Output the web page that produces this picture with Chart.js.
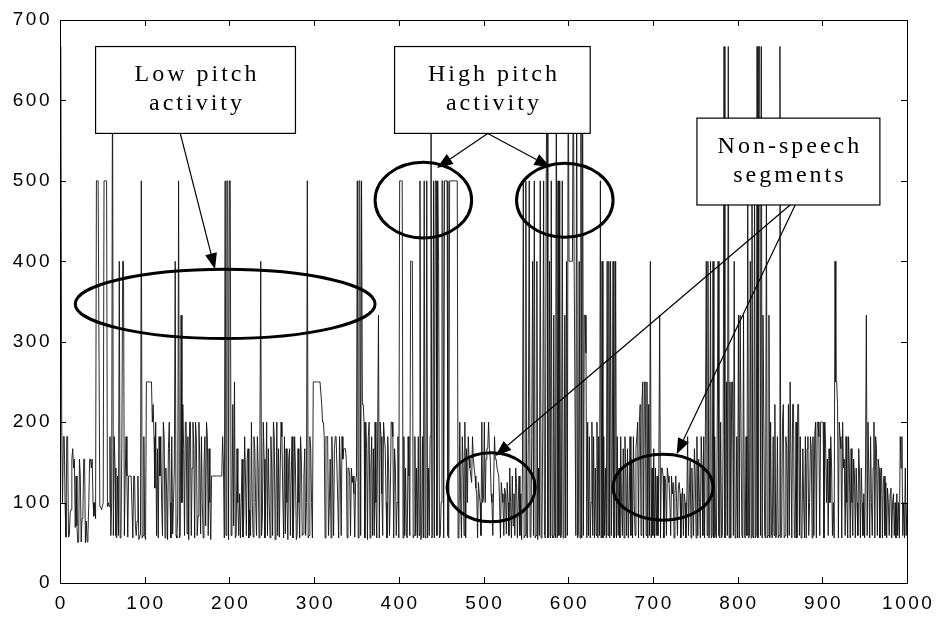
<!DOCTYPE html>
<html>
<head>
<meta charset="utf-8">
<script src="https://cdn.jsdelivr.net/npm/chart.js@4"></script>
<style>
  html, body { margin: 0; padding: 0; background: #fff; }
  canvas { display: block; }
</style>
</head>
<body>
<canvas id="pitchChart" width="940" height="619"></canvas>
<script>
// pitch track, one value per frame (frame 1..1000), Hz
const pitchHz = [
  667, 200, 100, 182, 182, 100, 57, 182, 182, 57,
  59, 87, 91, 154, 167, 143, 154, 69, 133, 71,
  50, 51, 154, 133, 51, 80, 83, 154, 154, 50,
  77, 51, 61, 100, 154, 154, 143, 154, 100, 83,
  100, 80, 500, 500, 500, 500, 95, 95, 91, 95,
  100, 500, 500, 500, 500, 95, 100, 95, 182, 59,
  100, 667, 59, 182, 143, 59, 56, 133, 59, 400,
  56, 59, 167, 400, 400, 59, 133, 182, 133, 57,
  133, 133, 133, 133, 133, 56, 133, 133, 71, 59,
  77, 133, 54, 57, 61, 500, 56, 59, 182, 59,
  54, 250, 250, 250, 250, 250, 250, 250, 200, 222,
  182, 118, 200, 59, 167, 56, 182, 133, 182, 100,
  59, 200, 182, 56, 143, 111, 54, 167, 200, 100,
  56, 182, 61, 100, 143, 400, 59, 56, 87, 500,
  56, 59, 333, 100, 222, 167, 59, 200, 200, 61,
  182, 54, 200, 200, 59, 143, 200, 167, 56, 200,
  182, 59, 83, 200, 154, 61, 182, 100, 56, 143,
  182, 71, 200, 182, 59, 167, 100, 54, 133, 133,
  133, 133, 133, 133, 133, 133, 133, 133, 133, 133,
  133, 182, 143, 56, 500, 59, 500, 500, 54, 500,
  500, 59, 87, 222, 71, 250, 56, 59, 167, 100,
  59, 111, 56, 100, 154, 57, 83, 182, 133, 59,
  154, 167, 56, 91, 59, 200, 100, 57, 182, 167,
  100, 59, 182, 143, 56, 182, 400, 59, 83, 200,
  154, 56, 111, 200, 59, 167, 100, 56, 182, 143,
  59, 200, 182, 54, 100, 200, 59, 167, 57, 143,
  200, 182, 111, 56, 182, 61, 167, 100, 54, 154,
  167, 59, 133, 182, 56, 91, 182, 143, 54, 59,
  167, 100, 56, 182, 154, 59, 61, 133, 167, 59,
  100, 500, 56, 59, 182, 167, 100, 56, 250, 250,
  250, 250, 250, 250, 250, 250, 250, 250, 222, 200,
  200, 182, 56, 182, 182, 182, 59, 100, 154, 56,
  182, 133, 59, 167, 182, 182, 182, 100, 56, 182,
  143, 59, 182, 154, 167, 167, 167, 154, 56, 143,
  143, 133, 59, 143, 125, 133, 111, 57, 125, 133,
  500, 56, 500, 500, 59, 500, 222, 222, 200, 56,
  200, 167, 54, 182, 200, 56, 143, 182, 59, 167,
  59, 200, 100, 56, 182, 333, 56, 200, 182, 111,
  59, 200, 182, 167, 100, 56, 182, 143, 59, 111,
  200, 200, 182, 56, 167, 143, 59, 100, 182, 56,
  500, 500, 500, 500, 56, 182, 59, 143, 59, 56,
  182, 133, 59, 400, 400, 400, 56, 59, 182, 59,
  143, 56, 182, 59, 500, 54, 59, 182, 56, 500,
  56, 59, 500, 56, 143, 59, 182, 667, 56, 59,
  500, 56, 500, 500, 59, 500, 400, 56, 59, 100,
  500, 500, 56, 500, 500, 500, 500, 59, 56, 500,
  500, 500, 500, 500, 500, 500, 500, 500, 500, 56,
  59, 200, 100, 56, 182, 143, 59, 200, 56, 167,
  100, 182, 154, 143, 133, 125, 182, 154, 143, 133,
  118, 111, 56, 125, 111, 100, 59, 200, 100, 105,
  200, 100, 154, 167, 167, 200, 167, 154, 111, 100,
  59, 125, 182, 154, 154, 143, 143, 133, 100, 56,
  125, 111, 100, 59, 118, 111, 61, 125, 100, 59,
  143, 100, 56, 133, 71, 111, 59, 143, 125, 56,
  100, 133, 59, 111, 54, 143, 500, 56, 59, 500,
  59, 56, 200, 500, 57, 59, 182, 400, 59, 500,
  56, 59, 400, 54, 143, 59, 500, 56, 59, 200,
  500, 59, 56, 500, 667, 56, 59, 400, 56, 500,
  59, 56, 333, 59, 56, 667, 56, 500, 59, 500,
  56, 59, 500, 56, 59, 333, 56, 400, 59, 667,
  400, 400, 400, 400, 400, 667, 400, 400, 59, 667,
  56, 59, 400, 56, 667, 56, 667, 59, 333, 333,
  286, 56, 200, 59, 182, 56, 100, 200, 59, 182,
  56, 143, 59, 200, 56, 182, 59, 500, 56, 400,
  56, 182, 59, 143, 56, 400, 59, 400, 56, 400,
  59, 143, 400, 56, 59, 400, 56, 182, 59, 143,
  56, 182, 100, 59, 167, 56, 182, 143, 59, 167,
  56, 100, 182, 59, 154, 56, 182, 100, 59, 167,
  182, 200, 56, 200, 222, 59, 222, 250, 56, 250,
  250, 59, 250, 56, 222, 59, 400, 56, 143, 59,
  167, 56, 143, 59, 133, 59, 143, 333, 56, 143,
  143, 133, 56, 133, 125, 59, 143, 133, 125, 100,
  59, 133, 111, 125, 56, 111, 133, 100, 59, 118,
  125, 111, 56, 100, 118, 59, 111, 100, 56, 100,
  182, 59, 111, 154, 56, 143, 100, 59, 167, 133,
  56, 182, 59, 154, 100, 56, 182, 143, 59, 182,
  56, 200, 400, 59, 400, 56, 59, 400, 56, 59,
  400, 56, 182, 59, 56, 200, 400, 59, 56, 200,
  56, 59, 182, 667, 56, 59, 250, 59, 667, 56,
  250, 56, 250, 250, 59, 400, 56, 59, 182, 56,
  333, 56, 333, 333, 59, 56, 333, 59, 56, 182,
  59, 500, 56, 59, 400, 56, 500, 59, 56, 500,
  56, 59, 667, 56, 667, 667, 59, 667, 56, 333,
  333, 59, 56, 500, 56, 59, 333, 56, 200, 59,
  56, 182, 59, 222, 56, 59, 182, 56, 59, 667,
  56, 59, 200, 222, 56, 59, 182, 167, 56, 222,
  59, 250, 250, 56, 222, 222, 59, 56, 200, 56,
  222, 222, 59, 182, 56, 59, 167, 100, 56, 182,
  56, 167, 182, 59, 100, 182, 167, 56, 182, 59,
  182, 200, 56, 200, 200, 182, 59, 200, 200, 200,
  200, 56, 200, 167, 100, 154, 59, 167, 100, 182,
  143, 59, 100, 56, 400, 250, 250, 222, 56, 200,
  182, 167, 56, 200, 143, 154, 59, 182, 100, 56,
  182, 143, 56, 167, 100, 59, 154, 133, 56, 143,
  100, 59, 167, 133, 56, 143, 100, 59, 111, 56,
  143, 333, 59, 200, 200, 56, 182, 100, 59, 143,
  200, 56, 182, 167, 59, 154, 143, 56, 133, 143,
  56, 125, 133, 59, 125, 56, 118, 100, 59, 111,
  118, 56, 100, 111, 59, 100, 56, 111, 59, 100,
  56, 182, 143, 182, 59, 100, 56, 143, 59, 100
];

const xTicks = [0, 100, 200, 300, 400, 500, 600, 700, 800, 900, 1000];
const yTicks = [0, 100, 200, 300, 400, 500, 600, 700];

// callout boxes, in data units
const boxes = [
  { x0: 42, x1: 278, y0: 667, y1: 559, lines: ['Low pitch', 'activity'] },
  { x0: 395, x1: 626, y0: 667, y1: 559, lines: ['High pitch', 'activity'] },
  { x0: 752, x1: 968, y0: 578, y1: 470, lines: ['Non-speech', 'segments'] }
];
// ellipses: centre and radii in data units
const ellipses = [
  { cx: 195, cy: 347, rx: 177, ry: 43 },
  { cx: 429, cy: 476, rx: 57, ry: 47 },
  { cx: 596, cy: 476, rx: 57, ry: 46 },
  { cx: 509, cy: 119, rx: 52, ry: 43 },
  { cx: 712, cy: 119, rx: 59, ry: 41 }
];
// arrows: from -> tip, data units
const arrows = [
  { x0: 142, y0: 559, x1: 183, y1: 390 },
  { x0: 505, y0: 559, x1: 445, y1: 516 },
  { x0: 505, y0: 559, x1: 579, y1: 517 },
  { x0: 862, y0: 470, x1: 514, y1: 158 },
  { x0: 868, y0: 470, x1: 728, y1: 160 }
];

const points = pitchHz.map((v, i) => ({ x: i + 1, y: v }));

const frame = {
  id: 'frame',
  afterDatasetsDraw(chart) {
    const { ctx, chartArea: a, scales: { x, y } } = chart;
    ctx.save();
    ctx.strokeStyle = '#000';
    ctx.lineWidth = 1;
    ctx.strokeRect(a.left + 0.5, a.top + 0.5, a.right - a.left, a.bottom - a.top);
    ctx.beginPath();
    xTicks.forEach(t => {
      const px = Math.round(x.getPixelForValue(t)) + 0.5;
      ctx.moveTo(px, a.bottom); ctx.lineTo(px, a.bottom - 6);
      ctx.moveTo(px, a.top); ctx.lineTo(px, a.top + 6);
    });
    yTicks.forEach(t => {
      const py = Math.round(y.getPixelForValue(t)) + 0.5;
      ctx.moveTo(a.left, py); ctx.lineTo(a.left + 6, py);
      ctx.moveTo(a.right, py); ctx.lineTo(a.right - 6, py);
    });
    ctx.stroke();

    ctx.fillStyle = '#000';
    ctx.font = '19px "Liberation Sans", Arial, sans-serif';
    ctx.letterSpacing = '2.5px';
    ctx.textBaseline = 'middle';
    ctx.textAlign = 'right';
    yTicks.forEach(t => ctx.fillText(String(t), a.left - 8, y.getPixelForValue(t)));
    ctx.textAlign = 'center';
    xTicks.forEach(t => ctx.fillText(String(t), x.getPixelForValue(t) + 1.25, a.bottom + 21));
    ctx.restore();
  }
};

const callouts = {
  id: 'callouts',
  afterDraw(chart) {
    const { ctx, scales: { x, y } } = chart;
    ctx.save();
    ctx.strokeStyle = '#000';
    ctx.fillStyle = '#000';

    // ellipses
    ctx.lineWidth = 3;
    ellipses.forEach(e => {
      const cx = x.getPixelForValue(e.cx), cy = y.getPixelForValue(e.cy);
      const rx = x.getPixelForValue(e.cx + e.rx) - cx;
      const ry = cy - y.getPixelForValue(e.cy + e.ry);
      ctx.beginPath();
      ctx.ellipse(cx, cy, rx, ry, 0, 0, Math.PI * 2);
      ctx.stroke();
    });

    // arrows
    ctx.lineWidth = 1.2;
    arrows.forEach(r => {
      const ax = x.getPixelForValue(r.x0), ay = y.getPixelForValue(r.y0);
      const bx = x.getPixelForValue(r.x1), by = y.getPixelForValue(r.y1);
      const ang = Math.atan2(by - ay, bx - ax);
      const len = 16, half = 6;
      const hx = bx - len * Math.cos(ang), hy = by - len * Math.sin(ang);
      ctx.beginPath();
      ctx.moveTo(ax, ay); ctx.lineTo(hx, hy);
      ctx.stroke();
      ctx.beginPath();
      ctx.moveTo(bx, by);
      ctx.lineTo(hx + half * Math.sin(ang), hy - half * Math.cos(ang));
      ctx.lineTo(hx - half * Math.sin(ang), hy + half * Math.cos(ang));
      ctx.closePath();
      ctx.fill();
    });

    // boxes with text
    ctx.font = '24px "Liberation Serif", "Times New Roman", serif';
    ctx.letterSpacing = '3px';
    ctx.textAlign = 'center';
    ctx.textBaseline = 'middle';
    boxes.forEach(b => {
      const l = x.getPixelForValue(b.x0), r = x.getPixelForValue(b.x1);
      const t = y.getPixelForValue(b.y0), btm = y.getPixelForValue(b.y1);
      ctx.fillStyle = '#fff';
      ctx.fillRect(l, t, r - l, btm - t);
      ctx.lineWidth = 1.2;
      ctx.strokeRect(l, t, r - l, btm - t);
      ctx.fillStyle = '#000';
      const mid = (t + btm) / 2;
      ctx.fillText(b.lines[0], (l + r) / 2 + 1.5, mid - 15);
      ctx.fillText(b.lines[1], (l + r) / 2 + 1.5, mid + 14);
    });
    ctx.restore();
  }
};

new Chart(document.getElementById('pitchChart'), {
  type: 'line',
  data: {
    datasets: [{
      data: points,
      borderColor: '#111',
      borderWidth: 0.9,
      pointRadius: 0,
      tension: 0,
      fill: false
    }]
  },
  options: {
    responsive: false,
    animation: false,
    layout: { padding: { top: 20, right: 33, left: 0, bottom: 0 } },
    plugins: { legend: { display: false }, tooltip: { enabled: false } },
    scales: {
      x: {
        type: 'linear', min: 0, max: 1000,
        ticks: { display: false, stepSize: 100 },
        grid: { display: false }, border: { display: false },
        afterFit: s => { s.height = 36; }
      },
      y: {
        min: 0, max: 700,
        ticks: { display: false, stepSize: 100 },
        grid: { display: false }, border: { display: false },
        afterFit: s => { s.width = 60; }
      }
    }
  },
  plugins: [frame, callouts]
});
</script>
</body>
</html>
